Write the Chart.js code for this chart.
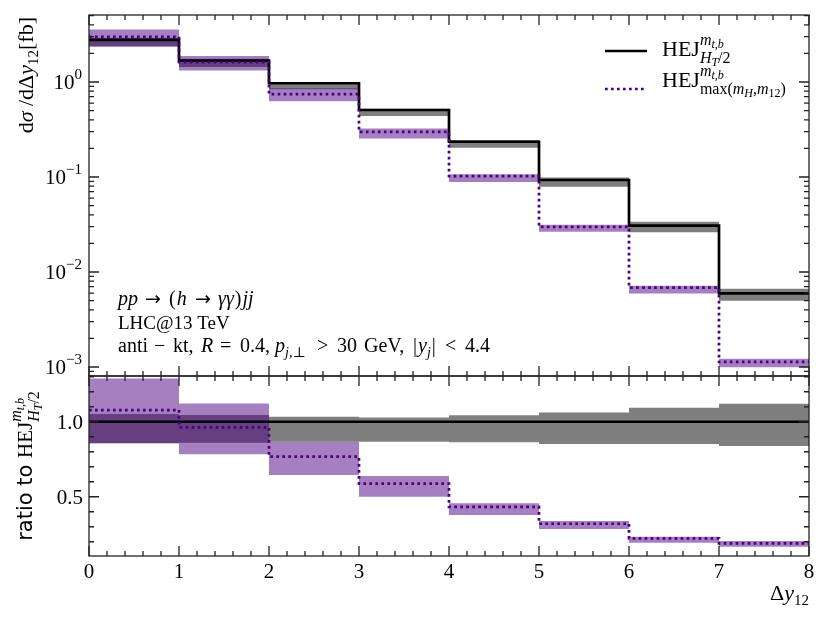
<!DOCTYPE html>
<html>
<head>
<meta charset="utf-8">
<script src="https://cdn.jsdelivr.net/npm/chart.js@4.4.0/dist/chart.umd.min.js"></script>
<style>
  html, body { margin: 0; padding: 0; background: #fff; }
  #wrap { position: relative; width: 830px; height: 623px; }
  #wrap canvas { position: absolute; left: 0; top: 0; }
</style>
</head>
<body>
<div id="wrap">
  <canvas id="ratioChart" width="830" height="623"></canvas>
  <canvas id="mainChart" width="830" height="623"></canvas>
</div>
<script>
// bin edges of the Δy12 histogram
const binEdges = [0, 1, 2, 3, 4, 5, 6, 7, 8];

// upper panel: dσ/dΔy12 [fb]
const htCentral = [2.77, 1.68, 0.97, 0.507, 0.235, 0.093, 0.0308, 0.00596];
const htLow     = [2.37, 1.44, 0.84, 0.439, 0.203, 0.0791, 0.0262, 0.00499];
const htHigh    = [2.91, 1.76, 1.00, 0.522, 0.245, 0.0988, 0.0337, 0.00668];
const mxCentral = [2.99, 1.62, 0.744, 0.298, 0.102, 0.0298, 0.00684, 0.00113];
const mxLow     = [2.37, 1.32, 0.626, 0.254, 0.0888, 0.0265, 0.00594, 0.000995];
const mxHigh    = [3.57, 1.88, 0.86, 0.323, 0.107, 0.0314, 0.00718, 0.00122];

// lower panel: ratio to HEJ H_T/2
const htRatio     = [1, 1, 1, 1, 1, 1, 1, 1];
const htRatioLow  = [0.856, 0.86, 0.866, 0.866, 0.864, 0.851, 0.851, 0.838];
const htRatioHigh = [1.052, 1.045, 1.033, 1.029, 1.044, 1.062, 1.093, 1.12];
const mxRatio     = [1.078, 0.962, 0.767, 0.587, 0.433, 0.32, 0.222, 0.189];
const mxRatioLow  = [0.856, 0.783, 0.645, 0.5, 0.378, 0.285, 0.193, 0.167];
const mxRatioHigh = [1.289, 1.122, 0.866, 0.638, 0.456, 0.338, 0.233, 0.205];

// tick labels
const xTickLabels = ['0', '1', '2', '3', '4', '5', '6', '7', '8'];
const logDecades = [-3, -2, -1, 0];
const ratioTickLabels = ['0.5', '1.0'];

const SERIF = '"Liberation Serif", "DejaVu Serif", serif';
const SANS = '"DejaVu Sans", sans-serif';
const rm = s => s + 'px ' + SERIF;
const it = s => 'italic ' + s + 'px ' + SERIF;

const GRAY_BAND = 'rgba(0, 0, 0, 0.5)';
const PURPLE_BAND = 'rgba(75, 0, 130, 0.5)';
const PURPLE = '#4b0082';
const NONE = 'rgba(0, 0, 0, 0)';

// histogram -> stepped points (value held until next edge)
function stepPoints(vals) {
    const pts = vals.map((v, i) => ({ x: binEdges[i], y: v }));
    pts.push({ x: binEdges[vals.length], y: vals[vals.length - 1] });
    return pts;
}

function lowDataset(vals, order) {
    return { data: stepPoints(vals), stepped: 'before', borderColor: NONE, borderWidth: 0,
             pointRadius: 0, fill: false, order: order };
}
function highDataset(vals, color, order) {
    return { data: stepPoints(vals), stepped: 'before', borderColor: NONE, borderWidth: 0,
             pointRadius: 0, fill: '-1', backgroundColor: color, order: order };
}
function lineDataset(vals, color, dash, order) {
    return { data: stepPoints(vals), stepped: 'before', borderColor: color, borderWidth: 2.7,
             borderDash: dash, borderCapStyle: 'butt', borderJoinStyle: 'miter',
             pointRadius: 0, fill: false, order: order };
}

// text made of runs with different fonts / baseline shifts
function layoutRuns(ctx, runs, pos) {
    let cx = 0, mark = 0, maxX = 0;
    runs.forEach(r => {
        ctx.font = r.f;
        if (r.at === 'mark') cx = mark;
        if (r.x !== undefined) cx = r.x;
        if (r.gap) cx += r.gap;
        if (r.mark) mark = cx;
        if (pos) ctx.fillText(r.t, pos.x + cx, pos.y + (r.dy || 0));
        cx += ctx.measureText(r.t).width;
        maxX = Math.max(maxX, cx);
    });
    return maxX;
}
function drawRuns(ctx, x, y, runs, align) {
    const w = layoutRuns(ctx, runs, null);
    const x0 = align === 'right' ? x - w : align === 'center' ? x - w / 2 : x;
    layoutRuns(ctx, runs, { x: x0, y: y });
}
function drawRotatedRuns(ctx, x, y, runs, align) {
    ctx.save();
    ctx.translate(x, y);
    ctx.rotate(-Math.PI / 2);
    drawRuns(ctx, 0, 0, runs, align);
    ctx.restore();
}

function hejSup() {
    return [
        { t: 'm', f: it(16), dy: -11, mark: true },
        { t: 't,b', f: it(12), dy: -8 }
    ];
}
function hejSubHT() {
    return [
        { t: 'H', f: it(16), dy: 7, at: 'mark' }, { t: 'T', f: it(12), dy: 10 },
        { t: '/2', f: rm(16), dy: 7 }
    ];
}

function xTickList() {
    const list = [];
    for (let i = 0; i <= 40; i++) list.push({ v: i * 0.2, major: i % 5 === 0 });
    return list;
}

function drawFrameAndTicks(ctx, a, xs, ys, yTicks) {
    ctx.save();
    ctx.strokeStyle = '#222';
    ctx.lineWidth = 1.3;
    ctx.beginPath();
    xTickList().forEach(t => {
        const px = xs.getPixelForValue(t.v);
        const L = t.major ? 10 : 5;
        ctx.moveTo(px, a.bottom); ctx.lineTo(px, a.bottom - L);
        ctx.moveTo(px, a.top); ctx.lineTo(px, a.top + L);
    });
    yTicks.forEach(t => {
        const py = ys.getPixelForValue(t.v);
        if (py < a.top - 0.5 || py > a.bottom + 0.5) return;
        const L = t.major ? 10 : 5;
        ctx.moveTo(a.left, py); ctx.lineTo(a.left + L, py);
        ctx.moveTo(a.right, py); ctx.lineTo(a.right - L, py);
    });
    ctx.stroke();
    ctx.strokeRect(a.left, a.top, a.right - a.left, a.bottom - a.top);
    ctx.restore();
}

const mainDecor = {
    id: 'mainDecor',
    afterDraw(chart) {
        const { ctx, chartArea: a, scales } = chart;
        const ys = scales.y, xs = scales.x;
        const yTicks = [];
        [-4, -3, -2, -1, 0].forEach(k => {
            for (let m = 1; m <= 9; m++) yTicks.push({ v: m * Math.pow(10, k), major: m === 1 });
        });
        drawFrameAndTicks(ctx, a, xs, ys, yTicks);

        ctx.save();
        ctx.fillStyle = '#000';
        ctx.textBaseline = 'alphabetic';
        // y tick labels 10^k
        logDecades.forEach(k => {
            const py = ys.getPixelForValue(Math.pow(10, k));
            drawRuns(ctx, 82, py + 7, [
                { t: '10', f: rm(21) },
                { t: k === 0 ? '0' : '\u2212' + (-k), f: rm(15), dy: -10 }
            ], 'right');
        });
        // y title
        drawRotatedRuns(ctx, 33, 17, [
            { t: 'd', f: rm(22) }, { t: '\u03c3', f: it(22) }, { t: ' /d\u0394', f: rm(22) },
            { t: 'y', f: it(22) }, { t: '12', f: rm(15), dy: 5 }, { t: '[fb]', f: rm(22) }
        ], 'right');

        // legend
        ctx.strokeStyle = '#000';
        ctx.lineWidth = 2.7;
        ctx.beginPath(); ctx.moveTo(605, 51); ctx.lineTo(647, 51); ctx.stroke();
        drawRuns(ctx, 662, 56, [{ t: 'HEJ', f: rm(22) }].concat(hejSup(), hejSubHT()), 'left');
        ctx.strokeStyle = PURPLE;
        ctx.setLineDash([2.7, 3.3]);
        ctx.beginPath(); ctx.moveTo(605, 89); ctx.lineTo(647, 89); ctx.stroke();
        ctx.setLineDash([]);
        drawRuns(ctx, 662, 87, [{ t: 'HEJ', f: rm(22) }].concat(hejSup(), [
            { t: 'max(', f: rm(16), dy: 7, at: 'mark' }, { t: 'm', f: it(16), dy: 7 },
            { t: 'H', f: it(12), dy: 10 }, { t: ',', f: rm(16), dy: 7 }, { t: 'm', f: it(16), dy: 7 },
            { t: '12', f: rm(12), dy: 10 }, { t: ')', f: rm(16), dy: 7 }
        ]), 'left');

        // process annotation (math spacing as in the figure)
        drawRuns(ctx, 118, 305, [
            { t: 'pp', f: it(20), x: 0 }, { t: '\u2192', f: '19px ' + SANS, x: 27 },
            { t: '(', f: rm(20), x: 51 }, { t: 'h', f: it(20), gap: 1 },
            { t: '\u2192', f: '19px ' + SANS, x: 77 }, { t: '\u03b3\u03b3', f: it(20), x: 100 },
            { t: ')', f: rm(20), gap: 1 }, { t: 'jj', f: it(20), gap: 1 }
        ], 'left');
        drawRuns(ctx, 118, 329, [{ t: 'LHC@13 TeV', f: rm(19) }], 'left');
        drawRuns(ctx, 118, 352, [
            { t: 'anti', f: rm(20), x: 0 }, { t: '\u2212', f: rm(20), x: 36 },
            { t: 'kt,', f: rm(20), x: 55 }, { t: 'R', f: it(20), x: 83 },
            { t: '=', f: rm(20), x: 102 }, { t: '0.4,', f: rm(20), x: 122 },
            { t: 'p', f: it(20), x: 157 }, { t: 'j,\u22a5', f: it(14), dy: 5 },
            { t: '>', f: rm(20), x: 199 }, { t: '30', f: rm(20), x: 219 },
            { t: 'GeV,', f: rm(20), x: 246 }, { t: '|', f: rm(20), x: 295 },
            { t: 'y', f: it(20), gap: 1 }, { t: 'j', f: it(14), dy: 5 },
            { t: '|', f: rm(20), gap: 1 }, { t: '<', f: rm(20), x: 327 },
            { t: '4.4', f: rm(20), x: 347 }
        ], 'left');
        ctx.restore();
    }
};

const ratioDecor = {
    id: 'ratioDecor',
    afterDraw(chart) {
        const { ctx, chartArea: a, scales } = chart;
        const ys = scales.y, xs = scales.x;
        const yTicks = [];
        for (let i = 1; i <= 13; i++) yTicks.push({ v: i / 10, major: i === 5 || i === 10 });
        drawFrameAndTicks(ctx, a, xs, ys, yTicks);

        ctx.save();
        ctx.fillStyle = '#000';
        ratioTickLabels.forEach(lbl => {
            const py = ys.getPixelForValue(parseFloat(lbl));
            drawRuns(ctx, 83, py + 7, [{ t: lbl, f: rm(21) }], 'right');
        });
        xTickLabels.forEach(lbl => {
            const px = xs.getPixelForValue(parseFloat(lbl));
            drawRuns(ctx, px, 578, [{ t: lbl, f: rm(21) }], 'center');
        });
        drawRuns(ctx, 809, 600, [
            { t: '\u0394', f: rm(22) }, { t: 'y', f: it(22) }, { t: '12', f: rm(15), dy: 5 }
        ], 'right');
        drawRotatedRuns(ctx, 32, (a.top + a.bottom) / 2, [
            { t: 'ratio to ', f: '21px ' + SANS }, { t: 'HEJ', f: rm(21) }
        ].concat(hejSup(), hejSubHT()), 'center');
        ctx.restore();
    }
};

function baseOptions(padding, yScale) {
    return {
        responsive: false,
        animation: false,
        events: [],
        layout: { padding: padding },
        plugins: { legend: { display: false }, tooltip: { enabled: false } },
        scales: {
            x: { type: 'linear', min: 0, max: 8, display: false },
            y: yScale
        }
    };
}

new Chart(document.getElementById('mainChart').getContext('2d'), {
    type: 'line',
    data: {
        datasets: [
            lowDataset(htLow, 5),
            highDataset(htHigh, GRAY_BAND, 5),
            lowDataset(mxLow, 3),
            highDataset(mxHigh, PURPLE_BAND, 3),
            lineDataset(htCentral, '#000', [], 1),
            lineDataset(mxCentral, PURPLE, [2.7, 3.3], 0)
        ]
    },
    options: baseOptions({ left: 89, right: 21, top: 15, bottom: 247 },
        { type: 'logarithmic', min: 8.04e-4, max: 5.07, display: false }),
    plugins: [mainDecor]
});

new Chart(document.getElementById('ratioChart').getContext('2d'), {
    type: 'line',
    data: {
        datasets: [
            lowDataset(htRatioLow, 5),
            highDataset(htRatioHigh, GRAY_BAND, 5),
            lowDataset(mxRatioLow, 3),
            highDataset(mxRatioHigh, PURPLE_BAND, 3),
            lineDataset(htRatio, '#000', [], 1),
            lineDataset(mxRatio, PURPLE, [2.7, 3.3], 0)
        ]
    },
    options: baseOptions({ left: 89, right: 21, top: 376, bottom: 67 },
        { type: 'linear', min: 0.105, max: 1.305, display: false }),
    plugins: [ratioDecor]
});
</script>
</body>
</html>
